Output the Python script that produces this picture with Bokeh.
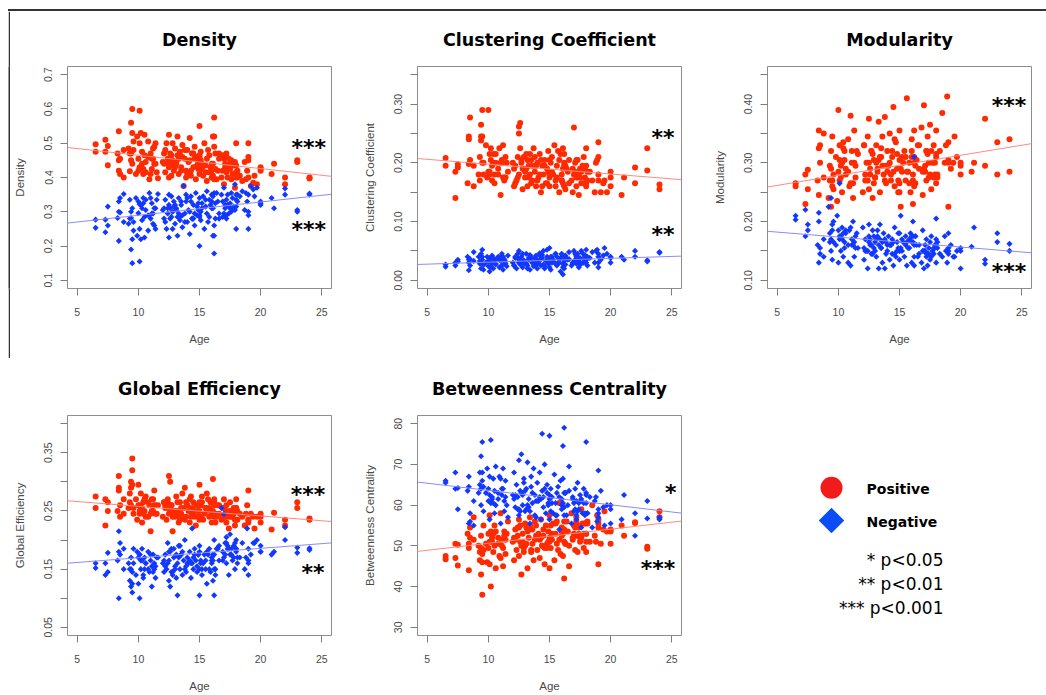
import math
from bokeh.plotting import figure
from bokeh.layouts import row, column
from bokeh.models import Range1d, FixedTicker, Slope, Spacer, ColumnDataSource, Div
from bokeh.core.properties import value
from bokeh.embed import file_html
from bokeh.resources import INLINE

# ---------------- data ----------------
AGE = [
    6.5, 6.5, 7.3, 7.3, 7.5, 7.5, 8.3, 8.4, 8.4, 8.5,
    8.5, 8.8, 8.8, 9.2, 9.3, 9.4, 9.4, 9.5, 9.5, 9.6,
    9.8, 9.9, 10.0, 10.1, 10.1, 10.2, 10.3, 10.4, 10.5, 10.6,
    10.8, 10.9, 11.0, 11.1, 11.2, 11.3, 11.4, 11.6, 12.0, 12.1,
    12.2, 12.3, 12.4, 12.5, 12.5, 12.6, 12.7, 12.8, 12.9, 13.0,
    13.1, 13.2, 13.3, 13.4, 13.5, 13.6, 13.7, 13.8, 13.9, 14.0,
    14.1, 14.2, 14.3, 14.4, 14.5, 14.6, 14.7, 14.8, 14.9, 15.0,
    15.0, 15.1, 15.2, 15.4, 15.5, 15.6, 15.8, 15.9, 16.0, 16.1,
    16.1, 16.2, 16.2, 16.3, 16.5, 16.6, 16.8, 16.9, 17.0, 17.1,
    17.2, 17.2, 17.3, 17.4, 17.5, 17.6, 17.8, 17.9, 18.0, 18.0,
    18.1, 18.5, 18.7, 18.9, 19.0, 19.0, 19.2, 19.5, 19.7, 20.0,
    20.0, 20.9, 21.1, 22.0, 22.0, 23.0, 23.0, 24.0, 24.0, 9.4,
    10.2, 10.5, 11.0, 11.3, 12.6, 12.8, 13.2, 13.5, 13.8, 14.2,
    14.5, 14.8, 15.0, 15.3, 15.7, 16.0, 16.2, 16.4, 17.0, 17.3,
    17.5, 17.7, 18.0, 18.3, 19.0, 10.0, 11.1, 12.4, 13.6, 15.5,
    9.5, 10.3, 10.8, 11.5, 12.2, 12.9, 13.3, 13.9, 14.4, 14.9,
    15.2, 15.6, 16.1, 16.6, 17.1, 17.6, 18.1, 18.8, 19.4, 8.4,
    9.3, 10.1, 10.6, 11.2, 12.1, 12.5, 13.0, 13.4, 14.0, 14.6,
    15.1, 15.8, 16.2, 16.9, 17.2, 17.8, 18.0, 19.0, 20.0, 12.7,
    9.6, 10.4, 11.4, 13.1, 14.3, 15.0, 16.0, 16.3, 17.4, 17.9,
]

DENS_POS = [
    0.497, 0.475, 0.510, 0.475, 0.492, 0.436, 0.470, 0.535, 0.420, 0.455,
    0.410, 0.480, 0.400, 0.485, 0.418, 0.560, 0.470, 0.600, 0.440, 0.505,
    0.410, 0.520, 0.455, 0.595, 0.430, 0.530, 0.475, 0.410, 0.525, 0.445,
    0.505, 0.395, 0.470, 0.425, 0.485, 0.440, 0.500, 0.398, 0.445, 0.470,
    0.415, 0.500, 0.455, 0.525, 0.430, 0.470, 0.405, 0.450, 0.420, 0.485,
    0.440, 0.520, 0.410, 0.465, 0.430, 0.495, 0.375, 0.455, 0.420, 0.480,
    0.445, 0.515, 0.405, 0.470, 0.430, 0.490, 0.395, 0.460, 0.425, 0.550,
    0.410, 0.475, 0.440, 0.500, 0.415, 0.390, 0.465, 0.430, 0.400, 0.520,
    0.440, 0.575, 0.395, 0.470, 0.420, 0.455, 0.400, 0.465, 0.380, 0.440,
    0.415, 0.470, 0.400, 0.455, 0.425, 0.395, 0.440, 0.370, 0.500, 0.415,
    0.400, 0.390, 0.445, 0.420, 0.500, 0.400, 0.375, 0.405, 0.380, 0.430,
    0.420, 0.410, 0.440, 0.400, 0.380, 0.450, 0.445, 0.400, 0.397, 0.450,
    0.430, 0.465, 0.410, 0.490, 0.440, 0.500, 0.465, 0.420, 0.480, 0.450,
    0.470, 0.435, 0.460, 0.405, 0.480, 0.420, 0.520, 0.395, 0.455, 0.430,
    0.440, 0.410, 0.435, 0.405, 0.460, 0.420, 0.455, 0.440, 0.460, 0.435,
    0.530, 0.440, 0.460, 0.415, 0.480, 0.435, 0.455, 0.400, 0.470, 0.445,
    0.425, 0.455, 0.405, 0.470, 0.430, 0.450, 0.420, 0.395, 0.385, 0.450,
    0.470, 0.500, 0.415, 0.455, 0.440, 0.400, 0.430, 0.475, 0.410, 0.455,
    0.450, 0.415, 0.490, 0.420, 0.460, 0.435, 0.400, 0.450, 0.425, 0.465,
    0.480, 0.425, 0.440, 0.445, 0.420, 0.465, 0.440, 0.425, 0.430, 0.445,
]
DENS_NEG = [
    0.253, 0.277, 0.240, 0.277, 0.260, 0.315, 0.282, 0.215, 0.330, 0.298,
    0.340, 0.270, 0.352, 0.265, 0.335, 0.190, 0.282, 0.150, 0.310, 0.245,
    0.340, 0.230, 0.296, 0.155, 0.322, 0.220, 0.275, 0.340, 0.225, 0.305,
    0.245, 0.355, 0.280, 0.325, 0.265, 0.310, 0.250, 0.352, 0.305, 0.280,
    0.335, 0.250, 0.295, 0.225, 0.320, 0.280, 0.345, 0.300, 0.330, 0.265,
    0.310, 0.230, 0.340, 0.285, 0.320, 0.255, 0.375, 0.295, 0.330, 0.270,
    0.305, 0.235, 0.345, 0.280, 0.320, 0.260, 0.355, 0.290, 0.325, 0.200,
    0.340, 0.275, 0.310, 0.250, 0.335, 0.360, 0.285, 0.320, 0.350, 0.230,
    0.310, 0.178, 0.355, 0.280, 0.330, 0.295, 0.350, 0.285, 0.370, 0.310,
    0.335, 0.280, 0.350, 0.295, 0.325, 0.355, 0.310, 0.380, 0.250, 0.335,
    0.350, 0.360, 0.305, 0.330, 0.250, 0.350, 0.375, 0.345, 0.370, 0.320,
    0.330, 0.340, 0.310, 0.350, 0.368, 0.300, 0.305, 0.350, 0.353, 0.300,
    0.320, 0.285, 0.340, 0.260, 0.310, 0.250, 0.285, 0.330, 0.270, 0.300,
    0.280, 0.315, 0.290, 0.345, 0.270, 0.330, 0.230, 0.355, 0.295, 0.320,
    0.310, 0.340, 0.315, 0.345, 0.290, 0.330, 0.295, 0.310, 0.290, 0.315,
    0.220, 0.310, 0.290, 0.335, 0.270, 0.315, 0.295, 0.350, 0.280, 0.305,
    0.325, 0.295, 0.345, 0.280, 0.320, 0.300, 0.330, 0.355, 0.365, 0.300,
    0.280, 0.250, 0.335, 0.295, 0.310, 0.350, 0.320, 0.275, 0.340, 0.295,
    0.300, 0.335, 0.260, 0.330, 0.290, 0.315, 0.350, 0.300, 0.325, 0.285,
    0.270, 0.325, 0.310, 0.305, 0.330, 0.285, 0.310, 0.325, 0.320, 0.305,
]
CC_POS = [
    0.208, 0.195, 0.140, 0.185, 0.197, 0.192, 0.165, 0.245, 0.198, 0.277,
    0.205, 0.160, 0.195, 0.180, 0.170, 0.265, 0.238, 0.290, 0.200, 0.180,
    0.230, 0.175, 0.290, 0.215, 0.185, 0.205, 0.170, 0.200, 0.165, 0.215,
    0.190, 0.225, 0.145, 0.200, 0.230, 0.175, 0.210, 0.185, 0.200, 0.160,
    0.195, 0.170, 0.210, 0.262, 0.180, 0.268, 0.205, 0.155, 0.190, 0.175,
    0.215, 0.160, 0.195, 0.180, 0.205, 0.170, 0.225, 0.185, 0.160, 0.200,
    0.175, 0.215, 0.150, 0.195, 0.180, 0.205, 0.165, 0.190, 0.220, 0.175,
    0.160, 0.200, 0.185, 0.230, 0.170, 0.195, 0.150, 0.215, 0.180, 0.225,
    0.165, 0.195, 0.215, 0.155, 0.185, 0.205, 0.170, 0.150, 0.260, 0.185,
    0.160, 0.205, 0.175, 0.145, 0.190, 0.165, 0.210, 0.175, 0.225, 0.160,
    0.185, 0.170, 0.150, 0.205, 0.235, 0.180, 0.150, 0.170, 0.150, 0.160,
    0.185, 0.145, 0.175, 0.192, 0.165, 0.225, 0.187, 0.163, 0.155, 0.245,
    0.225, 0.180, 0.200, 0.170, 0.225, 0.190, 0.205, 0.165, 0.210, 0.180,
    0.195, 0.165, 0.205, 0.180, 0.220, 0.170, 0.200, 0.190, 0.180, 0.205,
    0.175, 0.195, 0.165, 0.185, 0.170, 0.185, 0.205, 0.175, 0.195, 0.160,
    0.245, 0.195, 0.180, 0.200, 0.165, 0.210, 0.175, 0.195, 0.160, 0.185,
    0.210, 0.175, 0.190, 0.165, 0.200, 0.185, 0.170, 0.200, 0.165, 0.240,
    0.210, 0.180, 0.200, 0.175, 0.190, 0.250, 0.185, 0.215, 0.170, 0.195,
    0.180, 0.205, 0.160, 0.190, 0.175, 0.165, 0.195, 0.210, 0.175, 0.200,
    0.200, 0.215, 0.175, 0.190, 0.205, 0.180, 0.170, 0.195, 0.180, 0.190,
]
CC_NEG = [
    0.027, 0.023, 0.030, 0.025, 0.035, 0.032, 0.040, 0.017, 0.030, 0.036,
    0.025, 0.048, 0.033, 0.040, 0.028, 0.045, 0.020, 0.052, 0.035, 0.018,
    0.030, 0.040, 0.024, 0.015, 0.038, 0.030, 0.042, 0.020, 0.035, 0.027,
    0.040, 0.022, 0.033, 0.045, 0.018, 0.036, 0.028, 0.042, 0.030, 0.025,
    0.038, 0.020, 0.045, 0.050, 0.030, 0.027, 0.040, 0.022, 0.034, 0.028,
    0.045, 0.025, 0.035, 0.018, 0.040, 0.030, 0.024, 0.037, 0.042, 0.020,
    0.030, 0.046, 0.025, 0.038, 0.050, 0.020, 0.033, 0.052, 0.028, 0.055,
    0.035, 0.018, 0.040, 0.030, 0.045, 0.025, 0.036, 0.015, 0.040, 0.010,
    0.028, 0.020, 0.033, 0.042, 0.035, 0.048, 0.025, 0.030, 0.050, 0.035,
    0.040, 0.028, 0.045, 0.022, 0.038, 0.050, 0.030, 0.043, 0.052, 0.035,
    0.025, 0.048, 0.030, 0.052, 0.040, 0.022, 0.035, 0.055, 0.045, 0.030,
    0.038, 0.040, 0.035, 0.050, 0.040, 0.032, 0.034, 0.048, 0.047, 0.030,
    0.022, 0.035, 0.040, 0.028, 0.032, 0.045, 0.020, 0.038, 0.030, 0.042,
    0.027, 0.040, 0.022, 0.035, 0.030, 0.045, 0.025, 0.038, 0.032, 0.040,
    0.028, 0.046, 0.035, 0.038, 0.030, 0.033, 0.025, 0.038, 0.030, 0.045,
    0.040, 0.028, 0.036, 0.024, 0.040, 0.030, 0.038, 0.025, 0.043, 0.032,
    0.030, 0.040, 0.022, 0.036, 0.045, 0.028, 0.040, 0.050, 0.042, 0.035,
    0.033, 0.036, 0.028, 0.040, 0.025, 0.035, 0.030, 0.043, 0.035, 0.024,
    0.040, 0.030, 0.035, 0.028, 0.042, 0.036, 0.030, 0.045, 0.040, 0.033,
    0.026, 0.038, 0.032, 0.028, 0.036, 0.030, 0.044, 0.027, 0.033, 0.040,
]
MOD_POS = [
    0.265, 0.260, 0.280, 0.230, 0.288, 0.255, 0.270, 0.355, 0.245, 0.330,
    0.300, 0.350, 0.275, 0.240, 0.295, 0.225, 0.320, 0.270, 0.345, 0.255,
    0.310, 0.235, 0.390, 0.330, 0.270, 0.295, 0.250, 0.335, 0.305, 0.280,
    0.340, 0.260, 0.380, 0.300, 0.240, 0.355, 0.275, 0.315, 0.250, 0.330,
    0.270, 0.300, 0.345, 0.375, 0.255, 0.290, 0.320, 0.240, 0.305, 0.275,
    0.330, 0.285, 0.370, 0.250, 0.310, 0.345, 0.280, 0.378, 0.265, 0.320,
    0.295, 0.350, 0.270, 0.310, 0.395, 0.260, 0.335, 0.290, 0.250, 0.305,
    0.355, 0.225, 0.285, 0.320, 0.270, 0.410, 0.300, 0.250, 0.340, 0.280,
    0.230, 0.310, 0.355, 0.265, 0.330, 0.290, 0.360, 0.245, 0.398, 0.285,
    0.320, 0.270, 0.345, 0.300, 0.365, 0.255, 0.330, 0.280, 0.310, 0.355,
    0.275, 0.385, 0.300, 0.413, 0.225, 0.335, 0.290, 0.345, 0.310, 0.280,
    0.300, 0.285, 0.300, 0.375, 0.295, 0.335, 0.280, 0.340, 0.285, 0.290,
    0.275, 0.320, 0.265, 0.300, 0.280, 0.315, 0.290, 0.325, 0.270, 0.300,
    0.285, 0.315, 0.250, 0.300, 0.285, 0.320, 0.260, 0.305, 0.290, 0.315,
    0.280, 0.300, 0.265, 0.320, 0.305, 0.285, 0.320, 0.270, 0.295, 0.310,
    0.260, 0.300, 0.285, 0.320, 0.280, 0.265, 0.305, 0.295, 0.320, 0.270,
    0.310, 0.285, 0.270, 0.330, 0.295, 0.320, 0.280, 0.330, 0.300, 0.325,
    0.270, 0.305, 0.290, 0.265, 0.330, 0.300, 0.275, 0.310, 0.285, 0.340,
    0.290, 0.265, 0.300, 0.285, 0.320, 0.275, 0.315, 0.300, 0.295, 0.320,
    0.280, 0.325, 0.295, 0.300, 0.280, 0.265, 0.310, 0.295, 0.275, 0.300,
]
MOD_NEG = [
    0.210, 0.203, 0.220, 0.175, 0.195, 0.185, 0.160, 0.130, 0.200, 0.145,
    0.155, 0.140, 0.170, 0.225, 0.165, 0.240, 0.150, 0.185, 0.135, 0.200,
    0.160, 0.210, 0.130, 0.265, 0.175, 0.150, 0.190, 0.140, 0.165, 0.180,
    0.130, 0.185, 0.125, 0.160, 0.200, 0.140, 0.175, 0.155, 0.190, 0.135,
    0.170, 0.150, 0.120, 0.175, 0.195, 0.160, 0.145, 0.185, 0.155, 0.165,
    0.140, 0.175, 0.120, 0.195, 0.155, 0.130, 0.180, 0.120, 0.165, 0.150,
    0.175, 0.135, 0.160, 0.145, 0.125, 0.190, 0.140, 0.165, 0.180, 0.150,
    0.135, 0.210, 0.170, 0.140, 0.160, 0.125, 0.155, 0.180, 0.130, 0.165,
    0.200, 0.310, 0.125, 0.175, 0.140, 0.160, 0.130, 0.185, 0.120, 0.150,
    0.140, 0.170, 0.125, 0.155, 0.135, 0.175, 0.145, 0.160, 0.205, 0.130,
    0.165, 0.140, 0.175, 0.130, 0.180, 0.150, 0.160, 0.140, 0.150, 0.120,
    0.155, 0.157, 0.190, 0.135, 0.128, 0.180, 0.165, 0.162, 0.150, 0.170,
    0.175, 0.155, 0.190, 0.165, 0.170, 0.145, 0.185, 0.155, 0.170, 0.160,
    0.165, 0.150, 0.180, 0.165, 0.155, 0.175, 0.140, 0.160, 0.150, 0.145,
    0.165, 0.150, 0.160, 0.145, 0.155, 0.185, 0.170, 0.150, 0.165, 0.175,
    0.195, 0.170, 0.160, 0.180, 0.150, 0.175, 0.160, 0.145, 0.170, 0.155,
    0.150, 0.165, 0.175, 0.145, 0.160, 0.140, 0.155, 0.150, 0.140, 0.215,
    0.180, 0.170, 0.185, 0.160, 0.155, 0.165, 0.150, 0.170, 0.160, 0.145,
    0.155, 0.170, 0.160, 0.150, 0.145, 0.155, 0.170, 0.145, 0.150, 0.160,
    0.165, 0.180, 0.155, 0.170, 0.160, 0.150, 0.165, 0.175, 0.145, 0.155,
]
GE_POS = [
    0.275, 0.255, 0.270, 0.225, 0.265, 0.250, 0.250, 0.310, 0.290, 0.260,
    0.240, 0.270, 0.245, 0.255, 0.280, 0.300, 0.260, 0.340, 0.320, 0.245,
    0.270, 0.235, 0.295, 0.260, 0.245, 0.280, 0.230, 0.265, 0.250, 0.275,
    0.240, 0.260, 0.215, 0.270, 0.250, 0.285, 0.245, 0.260, 0.240, 0.265,
    0.255, 0.235, 0.270, 0.310, 0.245, 0.300, 0.260, 0.215, 0.250, 0.240,
    0.275, 0.250, 0.230, 0.265, 0.245, 0.280, 0.255, 0.290, 0.240, 0.260,
    0.250, 0.230, 0.275, 0.245, 0.265, 0.240, 0.225, 0.260, 0.250, 0.295,
    0.235, 0.260, 0.275, 0.245, 0.255, 0.280, 0.240, 0.265, 0.230, 0.305,
    0.250, 0.240, 0.265, 0.230, 0.260, 0.245, 0.235, 0.255, 0.270, 0.240,
    0.230, 0.260, 0.245, 0.220, 0.265, 0.240, 0.255, 0.225, 0.270, 0.235,
    0.250, 0.240, 0.225, 0.260, 0.285, 0.235, 0.245, 0.220, 0.240, 0.230,
    0.240, 0.218, 0.247, 0.235, 0.225, 0.265, 0.255, 0.237, 0.235, 0.290,
    0.255, 0.270, 0.245, 0.260, 0.250, 0.240, 0.265, 0.255, 0.235, 0.270,
    0.245, 0.260, 0.250, 0.235, 0.270, 0.245, 0.260, 0.240, 0.255, 0.245,
    0.250, 0.240, 0.255, 0.245, 0.230, 0.260, 0.250, 0.265, 0.240, 0.255,
    0.295, 0.255, 0.265, 0.245, 0.260, 0.250, 0.240, 0.265, 0.255, 0.240,
    0.265, 0.250, 0.245, 0.260, 0.240, 0.250, 0.235, 0.245, 0.240, 0.285,
    0.265, 0.250, 0.240, 0.270, 0.265, 0.255, 0.245, 0.235, 0.260, 0.250,
    0.240, 0.255, 0.270, 0.240, 0.250, 0.245, 0.255, 0.235, 0.245, 0.260,
    0.255, 0.245, 0.260, 0.250, 0.240, 0.265, 0.250, 0.245, 0.240, 0.235,
]
GE_NEG = [
    0.160, 0.152, 0.160, 0.140, 0.178, 0.145, 0.165, 0.100, 0.215, 0.175,
    0.195, 0.150, 0.185, 0.160, 0.130, 0.120, 0.170, 0.110, 0.145, 0.185,
    0.140, 0.180, 0.125, 0.100, 0.175, 0.150, 0.185, 0.135, 0.170, 0.160,
    0.180, 0.145, 0.165, 0.120, 0.175, 0.150, 0.135, 0.170, 0.160, 0.145,
    0.175, 0.150, 0.195, 0.130, 0.165, 0.120, 0.185, 0.140, 0.170, 0.155,
    0.135, 0.105, 0.190, 0.150, 0.175, 0.140, 0.165, 0.200, 0.155, 0.170,
    0.160, 0.180, 0.135, 0.220, 0.150, 0.185, 0.165, 0.145, 0.175, 0.105,
    0.190, 0.160, 0.140, 0.175, 0.150, 0.125, 0.185, 0.145, 0.170, 0.130,
    0.175, 0.105, 0.200, 0.150, 0.185, 0.165, 0.255, 0.180, 0.245, 0.195,
    0.205, 0.160, 0.185, 0.140, 0.210, 0.175, 0.190, 0.150, 0.180, 0.200,
    0.170, 0.195, 0.150, 0.220, 0.185, 0.140, 0.175, 0.195, 0.200, 0.190,
    0.180, 0.175, 0.180, 0.222, 0.200, 0.187, 0.178, 0.186, 0.183, 0.150,
    0.165, 0.150, 0.175, 0.160, 0.180, 0.145, 0.160, 0.175, 0.150, 0.165,
    0.170, 0.155, 0.180, 0.160, 0.175, 0.160, 0.150, 0.185, 0.170, 0.190,
    0.175, 0.165, 0.185, 0.170, 0.160, 0.170, 0.155, 0.160, 0.180, 0.165,
    0.125, 0.165, 0.150, 0.170, 0.155, 0.185, 0.170, 0.145, 0.160, 0.175,
    0.150, 0.180, 0.165, 0.190, 0.175, 0.185, 0.160, 0.170, 0.195, 0.180,
    0.150, 0.175, 0.160, 0.145, 0.165, 0.180, 0.150, 0.190, 0.160, 0.175,
    0.165, 0.150, 0.175, 0.165, 0.195, 0.170, 0.185, 0.165, 0.180, 0.145,
    0.160, 0.140, 0.155, 0.175, 0.160, 0.150, 0.165, 0.140, 0.185, 0.195,
]
BC_POS = [
    47.5, 46.7, 50.5, 47.0, 50.3, 45.2, 53.0, 44.0, 49.5, 52.0,
    54.5, 51.5, 57.0, 50.0, 46.5, 43.0, 52.5, 38.0, 48.0, 55.0,
    50.5, 46.0, 53.0, 45.5, 57.5, 40.0, 51.0, 48.5, 55.0, 44.5,
    52.0, 47.5, 58.0, 50.0, 45.0, 53.5, 48.0, 56.0, 51.0, 46.5,
    54.0, 49.0, 52.5, 56.5, 47.5, 51.0, 43.0, 53.0, 49.5, 55.5,
    50.5, 44.5, 52.0, 57.0, 48.5, 54.0, 46.5, 51.5, 55.0, 49.0,
    53.0, 47.0, 56.5, 50.0, 52.5, 45.5, 55.0, 49.5, 51.0, 44.5,
    57.5, 49.5, 53.0, 46.5, 55.5, 50.5, 60.5, 48.0, 52.5, 54.0,
    47.5, 42.0, 56.0, 50.5, 53.5, 45.0, 58.0, 51.5, 55.0, 49.0,
    52.5, 57.0, 48.5, 54.5, 51.0, 59.0, 49.5, 55.5, 53.0, 48.5,
    56.0, 60.0, 52.5, 57.5, 45.5, 54.5, 50.5, 58.5, 53.5, 50.5,
    54.0, 55.0, 52.5, 55.8, 55.6, 49.8, 49.3, 58.5, 57.0, 49.5,
    53.5, 50.0, 47.0, 52.5, 55.0, 51.0, 53.5, 49.0, 56.0, 51.5,
    54.0, 50.5, 52.0, 55.5, 49.0, 53.5, 51.0, 56.0, 53.0, 55.0,
    52.0, 55.5, 53.0, 51.0, 56.5, 49.5, 51.5, 54.5, 50.5, 53.0,
    46.0, 52.0, 50.5, 53.0, 51.5, 48.5, 54.0, 52.5, 50.0, 53.5,
    51.5, 56.0, 53.0, 50.0, 54.5, 52.0, 55.5, 51.0, 54.0, 50.5,
    48.5, 51.0, 53.5, 49.5, 52.0, 54.5, 50.0, 55.0, 52.5, 49.5,
    55.0, 51.5, 54.0, 52.0, 56.0, 53.0, 51.0, 55.5, 53.5, 50.0,
    49.0, 53.0, 51.5, 54.5, 52.0, 51.0, 54.5, 50.5, 53.0, 55.5,
]
BC_NEG = [
    66.0, 65.5, 68.0, 64.0, 64.2, 59.0, 63.5, 67.0, 55.5, 58.0,
    56.0, 61.0, 55.0, 63.0, 68.0, 72.0, 60.0, 75.5, 66.0, 58.5,
    63.0, 69.0, 61.0, 67.0, 56.5, 76.0, 62.0, 66.5, 58.0, 69.5,
    61.5, 67.0, 55.5, 64.0, 69.0, 58.5, 66.0, 57.0, 62.5, 68.0,
    59.5, 65.0, 62.0, 57.5, 71.0, 63.5, 72.5, 60.0, 66.5, 58.5,
    64.0, 70.5, 61.5, 55.5, 67.0, 60.5, 69.0, 62.5, 57.0, 65.5,
    61.0, 68.0, 56.5, 77.5, 62.0, 70.0, 58.0, 65.0, 60.5, 77.0,
    56.5, 64.0, 60.5, 67.5, 57.5, 63.0, 54.0, 66.0, 61.5, 74.5,
    66.5, 79.0, 57.5, 63.0, 60.0, 69.5, 55.5, 62.0, 58.5, 64.0,
    61.0, 56.5, 65.5, 59.0, 62.5, 54.5, 64.0, 57.5, 75.5, 63.0,
    58.0, 54.5, 61.0, 56.0, 68.5, 59.0, 63.5, 55.0, 60.0, 59.0,
    55.5, 56.5, 62.5, 58.0, 52.5, 61.0, 56.7, 57.0, 56.5, 64.0,
    60.5, 63.5, 66.5, 61.0, 58.5, 62.5, 60.0, 64.5, 57.5, 62.0,
    59.5, 63.0, 61.5, 58.0, 64.5, 60.0, 63.0, 57.5, 60.5, 58.5,
    61.0, 58.0, 60.5, 62.0, 57.0, 64.0, 62.5, 59.0, 63.0, 60.5,
    68.0, 61.5, 63.0, 60.0, 62.5, 65.5, 59.5, 61.0, 63.5, 60.0,
    62.0, 57.5, 60.5, 63.5, 59.0, 61.5, 58.0, 62.0, 59.5, 64.5,
    65.0, 62.5, 60.0, 64.0, 61.5, 59.0, 63.5, 58.5, 61.0, 64.0,
    58.5, 62.0, 59.5, 61.5, 57.5, 60.5, 62.5, 58.0, 60.0, 63.0,
    64.5, 60.5, 62.0, 59.0, 61.5, 62.5, 59.0, 63.0, 60.5, 58.0,
]

# fitted lines: (gradient, intercept)
DENS_FIT_POS = (-0.00389, 0.5038)
DENS_FIT_NEG = (0.00389, 0.2507)
CC_FIT_POS = (-0.001667, 0.2143)
CC_FIT_NEG = (0.000657, 0.0242)
MOD_FIT_POS = (0.003417, 0.2445)
MOD_FIT_NEG = (-0.001694, 0.1905)
GE_FIT_POS = (-0.001648, 0.2744)
GE_FIT_NEG = (0.001616, 0.1534)
BC_FIT_POS = (0.345, 47.19)
BC_FIT_NEG = (-0.3528, 67.14)

# significance marks (text, x, y)
DENS_STARS = (["***", "***"], [23.94, 23.94], [0.497, 0.2565])
CC_STARS = (["**", "**"], [24.29, 24.29], [0.2478, 0.0834])
MOD_STARS = (["***", "***"], [23.96, 23.96], [0.403, 0.1198])
GE_STARS = (["***", "**"], [23.88, 24.29], [0.2827, 0.149])
BC_STARS = (["*", "***"], [24.92, 23.88], [63.8, 45.3])

AGE_TICKS = [5, 10, 15, 20, 25]
DENS_YTICKS = [0.1, 0.2, 0.3, 0.4, 0.5, 0.6, 0.7]
DENS_YLABELS = ["0.1", "0.2", "0.3", "0.4", "0.5", "0.6", "0.7"]
CC_YTICKS = [0.0, 0.05, 0.1, 0.15, 0.2, 0.25, 0.3, 0.35]
CC_YLABELS = ["0.00", "", "0.10", "", "0.20", "", "0.30", ""]
MOD_YTICKS = [0.1, 0.15, 0.2, 0.25, 0.3, 0.35, 0.4, 0.45]
MOD_YLABELS = ["0.10", "", "0.20", "", "0.30", "", "0.40", ""]
GE_YTICKS = [0.05, 0.1, 0.15, 0.2, 0.25, 0.3, 0.35, 0.4]
GE_YLABELS = ["0.05", "", "0.15", "", "0.25", "", "0.35", ""]
BC_YTICKS = [30, 40, 50, 60, 70, 80]
BC_YLABELS = ["30", "40", "50", "60", "70", "80"]

LEGEND_LABELS = ["Positive", "Negative"]
P_LABELS = ["* p<0.05", "** p<0.01", "*** p<0.001"]

RED = "#ff2a00"
BLUE = "#1238ff"
RED_LINE = "#ff8a80"
BLUE_LINE = "#8a8aff"
AXIS_GREY = "#7d7d7d"
TEXT_GREY = "#4a4a4a"

TOP_H, BOT_H = 347, 336
BOT_TOP, BOT_BOTTOM = 57, 57


def make_panel(title, ylab, ylim, yticks, ylabels, pos, neg, fit_pos, fit_neg,
               stars, width, height, left, right, top, bottom):
    pad = 0.04 * (ylim[1] - ylim[0])
    p = figure(width=width, height=height,
               x_range=Range1d(4.2, 25.8),
               y_range=Range1d(ylim[0] - pad, ylim[1] + pad),
               output_backend="svg", toolbar_location=None,
               min_border_left=left, min_border_right=right,
               min_border_top=top, min_border_bottom=bottom,
               background_fill_color="white", border_fill_color="white",
               outline_line_color="#8c8c8c", outline_line_width=1,
               title=title)
    p.title.align = "center"
    p.title.vertical_align = "middle"
    p.title.text_font = "DejaVu Sans"
    p.title.text_font_style = "bold"
    p.title.text_font_size = "17.5px"
    p.title.text_color = "black"
    p.title.standoff = 32
    p.grid.visible = False

    xa = p.xaxis[0]
    ya = p.yaxis[0]
    xa.ticker = FixedTicker(ticks=AGE_TICKS)
    ya.ticker = FixedTicker(ticks=yticks)
    ya.major_label_overrides = {t: l for t, l in zip(yticks, ylabels)}
    for ax in (xa, ya):
        ax.axis_line_color = None
        ax.major_tick_line_color = AXIS_GREY
        ax.major_tick_out = 7
        ax.major_tick_in = 0
        ax.minor_tick_line_color = None
        ax.major_label_text_font = "Liberation Sans"
        ax.major_label_text_font_size = "10.5px"
        ax.major_label_text_color = TEXT_GREY
        ax.axis_label_text_font = "Liberation Sans"
        ax.axis_label_text_font_size = "11.5px"
        ax.axis_label_text_font_style = "normal"
        ax.axis_label_text_color = TEXT_GREY
    xa.major_label_standoff = 12
    xa.axis_label = "Age"
    xa.axis_label_standoff = 14
    ya.major_label_standoff = 8
    ya.axis_label = ylab
    ya.axis_label_standoff = 16
    ya.major_label_orientation = "vertical"

    n = min(len(AGE), len(pos), len(neg))
    p.scatter(AGE[:n], pos[:n], marker="circle", size=6,
              fill_color=RED, line_color=None)
    p.scatter(AGE[:n], neg[:n], marker="square", angle=math.pi / 4, size=4.3,
              fill_color=BLUE, line_color=None)
    p.add_layout(Slope(gradient=fit_pos[0], y_intercept=fit_pos[1],
                       line_color=RED_LINE, line_width=1))
    p.add_layout(Slope(gradient=fit_neg[0], y_intercept=fit_neg[1],
                       line_color=BLUE_LINE, line_width=1))

    src = ColumnDataSource(dict(t=stars[0], x=stars[1], y=stars[2]))
    p.text(x="x", y="y", text="t", source=src,
           text_font=value("DejaVu Sans"), text_font_style="bold",
           text_font_size="22px", text_align="center",
           text_baseline="middle", y_offset=3, text_color="black")
    return p


def bar(w, h):
    f = figure(width=w, height=h, output_backend="svg", toolbar_location=None,
               min_border=0, x_axis_type=None, y_axis_type=None,
               background_fill_color="#333333", border_fill_color="#333333",
               outline_line_color=None)
    f.grid.visible = False
    return f


f1 = make_panel("Density", "Density", (0.1, 0.7), DENS_YTICKS, DENS_YLABELS,
                DENS_POS, DENS_NEG, DENS_FIT_POS, DENS_FIT_NEG, DENS_STARS,
                350, TOP_H, 56, 29, 55, 70)
f2 = make_panel("Clustering Coefficient", "Clustering Coefficient", (0.0, 0.35),
                CC_YTICKS, CC_YLABELS, CC_POS, CC_NEG, CC_FIT_POS, CC_FIT_NEG,
                CC_STARS, 350, TOP_H, 56, 29, 55, 70)
f3 = make_panel("Modularity", "Modularity", (0.1, 0.45), MOD_YTICKS, MOD_YLABELS,
                MOD_POS, MOD_NEG, MOD_FIT_POS, MOD_FIT_NEG, MOD_STARS,
                336, TOP_H, 56, 15, 55, 70)
f4 = make_panel("Global Efficiency", "Global Efficiency", (0.05, 0.40),
                GE_YTICKS, GE_YLABELS, GE_POS, GE_NEG, GE_FIT_POS, GE_FIT_NEG,
                GE_STARS, 350, BOT_H, 56, 29, BOT_TOP, BOT_BOTTOM)
f5 = make_panel("Betweenness Centrality", "Betweenness Centrality", (30, 80),
                BC_YTICKS, BC_YLABELS, BC_POS, BC_NEG, BC_FIT_POS, BC_FIT_NEG,
                BC_STARS, 350, BOT_H, 56, 29, BOT_TOP, BOT_BOTTOM)

# legend panel: its frame is aligned with the neighbouring panels' frames,
# so its y range maps row-relative pixels (downward) onto that frame
leg = figure(width=336, height=BOT_H, x_range=Range1d(0, 336),
             y_range=Range1d(BOT_H - BOT_BOTTOM, BOT_TOP),
             output_backend="svg", toolbar_location=None,
             min_border_left=0, min_border_right=0,
             min_border_top=BOT_TOP, min_border_bottom=BOT_BOTTOM,
             x_axis_type=None, y_axis_type=None, outline_line_color=None,
             background_fill_color="white", border_fill_color="white")
leg.grid.visible = False
leg.scatter([121], [130], marker="circle", size=22, fill_color="#f21a1a",
            line_color=None)
leg.scatter([121], [163], marker="square", angle=math.pi / 4, size=18,
            fill_color="#0a4cf5", line_color=None)
leg.text(x=[156, 156], y=[131.5, 164.0], text=LEGEND_LABELS,
         text_font=value("DejaVu Sans"), text_font_style="bold",
         text_font_size="14px", text_baseline="alphabetic",
         text_color="black")
leg.text(x=[233, 233, 233], y=[203.0, 227.5, 251.0], text=P_LABELS,
         text_font=value("DejaVu Sans"), text_font_size="17px",
         text_align="right", text_baseline="alphabetic", text_color="black")

top_line = Div(text="", width=1038, height=2, margin=0,
               styles={"background-color": "#333333"})

layout = column(
    Spacer(width=1046, height=9),
    row(Spacer(width=8, height=2), top_line),
    row(Spacer(width=8, height=TOP_H), bar(2, TOP_H), f1, f2, f3),
    row(Spacer(width=10, height=BOT_H), f4, f5, leg),
)

html = file_html(layout, INLINE, title="Network measures vs age")
with open("out.html", "w") as fh:
    fh.write(html)
